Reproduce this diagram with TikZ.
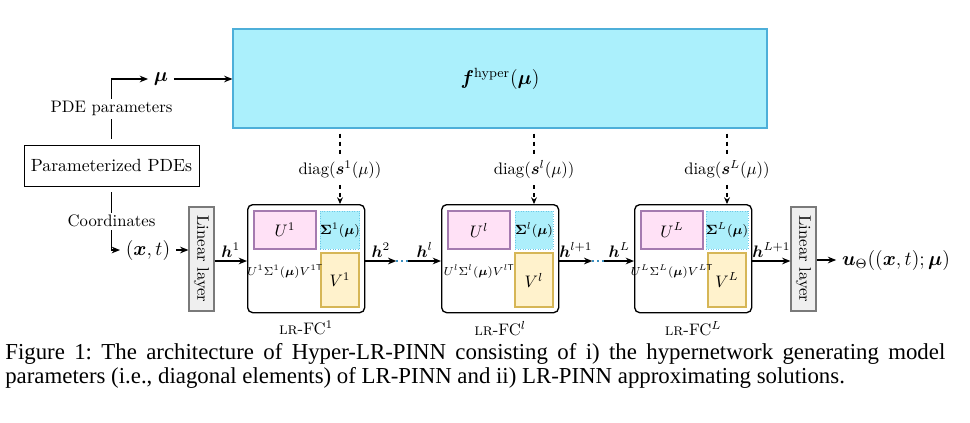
\documentclass[tikz,border=0pt]{standalone}
\usepackage{amsmath,bm}
\usepackage{fontspec}
\newfontfamily\capfont{Liberation Serif}
\usetikzlibrary{arrows.meta,calc}
\definecolor{hypfill}{HTML}{ABF0FC}
\definecolor{hypdraw}{HTML}{4DAFD9}
\definecolor{ufill}{HTML}{FFE1F6}
\definecolor{udraw}{HTML}{A57AB0}
\definecolor{vfill}{HTML}{FFF2CC}
\definecolor{vdraw}{HTML}{D6B656}
\definecolor{sfill}{HTML}{ADEFFB}
\definecolor{sdraw}{HTML}{6CC8E6}
\definecolor{linfill}{HTML}{EFEFEF}
\definecolor{lindraw}{HTML}{7A7A7A}
\definecolor{dotcol}{HTML}{3A8FC0}
\newcommand\lrblock[4]{%
  \node[blockbox, anchor=north west] (#1) at (#2,#3) {};
  \node[ubox] (#1U) at ($(#1.north west)+(38,26)$) {$U^{#4}$};
  \node[sbox] (#1S) at ($(#1.north west)+(93,26)$) {\fontsize{8.2}{9}\selectfont$\bm{\Sigma}^{#4}(\bm{\mu})$};
  \node[vbox] (#1V) at ($(#1.north west)+(93,76)$) {$V^{#4}$};
  \node[prodtext] (#1P) at ($(#1.north west)+(38,68)$) {$U^{#4}\Sigma^{#4}(\bm{\mu})V^{#4\mathsf{T}}$};
  \node[fclabel] (#1L) at ($(#1.south)+(0,15)$) {\textsc{lr}-FC$^{#4}$};
}
\begin{document}
\begin{tikzpicture}[x=0.6pt,y=-0.6pt,
  arr/.style={-{Stealth[length=5pt,width=4pt]}, line width=0.8pt},
  dsh/.style={dash pattern=on 2.4pt off 2.4pt, line width=0.8pt},
  dsharr/.style={dsh, -{Stealth[length=4pt,width=3.5pt]}},
  hyperbox/.style={draw=hypdraw, fill=hypfill, line width=0.7pt, minimum width=320.4pt, minimum height=59.4pt, inner sep=0pt},
  pdebox/.style={draw, line width=0.6pt, minimum width=105pt, minimum height=24.6pt, inner sep=0pt, font=\fontsize{10.6}{12}\selectfont},
  linbox/.style={draw=lindraw, fill=linfill, line width=0.7pt, minimum width=62.4pt, minimum height=15pt, inner sep=0pt, rotate=-90},
  blockbox/.style={draw, rounded corners=3pt, line width=0.8pt, minimum width=70.2pt, minimum height=64.8pt, inner sep=0pt},
  ubox/.style={draw=udraw, fill=ufill, line width=0.7pt, minimum width=37.2pt, minimum height=22.8pt, inner sep=0pt},
  sbox/.style={draw=sdraw, fill=sfill, densely dotted, line width=0.5pt, minimum width=22.8pt, minimum height=22.8pt, inner sep=0pt},
  vbox/.style={draw=vdraw, fill=vfill, line width=0.7pt, minimum width=22.8pt, minimum height=32.4pt, inner sep=0pt},
  prodtext/.style={font=\fontsize{7.2}{8}\selectfont, inner sep=0pt},
  fclabel/.style={inner sep=1pt},
  gap/.style={fill=white, inner sep=1.5pt},
  hlab/.style={above, inner sep=2pt},
  capstyle/.style={anchor=base west, inner sep=0pt, font=\capfont\fontsize{13.7}{15}\selectfont\frenchspacing},
]
\useasboundingbox (0,0) rectangle (970,422);
\coordinate (hline) at (0,261);
% hypernetwork
\node[hyperbox] (hyper) at (500,78.5) {\large$\bm{f}^{\text{hyper}}(\bm{\mu})$};
\node (mu) at (161,79) {\large$\bm{\mu}$};
\node[pdebox] (pde) at (111.5,165.5) {Parameterized PDEs};
\node (xt) at (148,250) {\large$(\bm{x},t)$};
\node[linbox] (lin1) at (201.5,259) {Linear layer};
\node[linbox] (lin2) at (803.5,259) {Linear layer};
\node (out) at (896,260) {\large$\bm{u}_{\Theta}((\bm{x},t);\bm{\mu})$};
% blocks
\lrblock{b1}{247}{204}{1}
\lrblock{b2}{441}{204}{l}
\lrblock{b3}{634}{204}{L}
% diag labels
\node (g1) at (b1S |- 0,170) {diag$(\bm{s}^{1}(\mu))$};
\node (g2) at (b2S |- 0,170) {diag$(\bm{s}^{l}(\mu))$};
\node (g3) at (b3S |- 0,170) {diag$(\bm{s}^{L}(\mu))$};
\foreach \g/\b in {g1/b1,g2/b2,g3/b3}{
  \draw[dsh] ([yshift=-3pt]hyper.south -| \g) -- (\g.north);
  \draw[dsharr] (\g.south) -- (\b.north -| \g);
}
% left paths
\draw[arr] ([yshift=3.5pt]pde.north) |- node[pos=0.25, gap]{PDE parameters} (mu.west);
\draw[arr] (mu.east) -- (mu -| hyper.west);
\draw[arr] ([yshift=-3.5pt]pde.south) |- node[pos=0.25, gap]{Coordinates} (xt.west);
\draw[arr] (xt.east) -- (xt -| lin1.south);
% h arrows
\draw[arr] (lin1.north |- hline) -- node[hlab]{$\bm{h}^{1}$} (b1.west |- hline);
\coordinate (d1a) at ($(b1.east |- hline)+(31,0)$);
\coordinate (d1b) at ($(d1a)+(12,0)$);
\draw[arr] (b1.east |- hline) -- node[hlab]{$\bm{h}^{2}$} (d1a);
\draw[dotcol, dotted, line width=0.9pt] (d1a) -- (d1b);
\draw[arr] (d1b) -- node[hlab]{$\bm{h}^{l}$} (b2.west |- hline);
\coordinate (d2a) at ($(b2.east |- hline)+(33,0)$);
\coordinate (d2b) at ($(d2a)+(12,0)$);
\draw[arr] (b2.east |- hline) -- node[hlab]{$\bm{h}^{l+1}$} (d2a);
\draw[dotcol, dotted, line width=0.9pt] (d2a) -- (d2b);
\draw[arr] (d2b) -- node[hlab]{$\bm{h}^{L}$} (b3.west |- hline);
\draw[arr] (b3.east |- hline) -- node[hlab]{$\bm{h}^{L+1}$} (lin2.south |- hline);
\draw[arr] (lin2.north |- out) -- (out.west);
% caption
\node[capstyle] (cap1) at (5,359) {\makebox[564pt][s]{Figure 1: The architecture of Hyper-LR-PINN consisting of i) the hypernetwork generating model}};
\node[capstyle] (cap2) at (5,383) {parameters (i.e., diagonal elements) of LR-PINN and ii) LR-PINN approximating solutions.};
\end{tikzpicture}
\end{document}
